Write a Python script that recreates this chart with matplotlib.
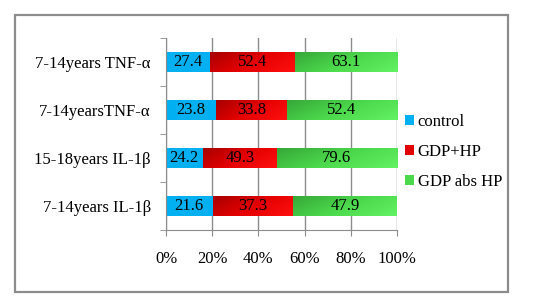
import numpy as np
import matplotlib.pyplot as plt
from matplotlib.colors import LinearSegmentedColormap
from matplotlib.patches import Patch, Rectangle

plt.rcParams['font.family'] = ['Liberation Serif', 'DejaVu Serif']

categories = ['7-14years IL-1β', '15-18years IL-1β', '7-14yearsTNF-α', '7-14years TNF-α']
control = [21.6, 24.2, 23.8, 27.4]
gdp_hp = [37.3, 49.3, 33.8, 52.4]
gdp_abs_hp = [47.9, 79.6, 52.4, 63.1]
series_names = ['control', 'GDP+HP', 'GDP abs HP']

fig = plt.figure(figsize=(5.49, 3.03), dpi=100)
fig.patches.append(Rectangle((15/549, 11/303), 493/549, 277/303, transform=fig.transFigure,
                             fill=False, edgecolor='#8c8c8c', linewidth=1.6))
ax = fig.add_axes([166/549, 73/303, 231/549, 192/303])

data = np.array([control, gdp_hp, gdp_abs_hp])
pct = data / data.sum(axis=0) * 100
y = np.arange(len(categories))
h = 0.4
fs = 12

red_cmap = LinearSegmentedColormap.from_list('r', ['#a80000', '#e40000', '#ff1010'])
green_cmap = LinearSegmentedColormap.from_list('g', ['#36a838', '#4cd84c', '#62f262'])
cmaps = [None, red_cmap, green_cmap]

nr, nc = 20, 100
grad = np.add.outer(np.linspace(0, 0.3, nr), np.linspace(0, 0.7, nc))

left = np.zeros(len(categories))
for k in range(3):
    if k == 0:
        bars = ax.barh(y, pct[k], height=h, left=left, color='#00b0f0', zorder=2)
    else:
        bars = ax.barh(y, pct[k], height=h, left=left, color='none', zorder=2)
        for b in bars:
            x0, y0 = b.get_x(), b.get_y()
            im = ax.imshow(grad, extent=[x0, x0 + b.get_width(), y0, y0 + b.get_height()],
                           cmap=cmaps[k], aspect='auto', zorder=2, origin='upper')
            im.set_clip_path(b)
    for i, b in enumerate(bars):
        ax.text(left[i] + pct[k][i] / 2, y[i], f'{data[k][i]:.1f}', ha='center', va='center',
                fontsize=fs, color='black', zorder=3)
    left = left + pct[k]

ax.set_xlim(0, 100)
ax.set_ylim(-0.5, 3.5)
ax.set_xticks([0, 20, 40, 60, 80, 100])
ax.set_xticklabels(['0%', '20%', '40%', '60%', '80%', '100%'])
ax.set_yticks(y)
ax.set_yticklabels(categories)
ax.set_yticks(np.arange(-0.5, 4, 1), minor=True)
ax.tick_params(axis='y', which='major', length=0, pad=11, labelsize=fs)
ax.tick_params(axis='y', which='minor', length=4, color='#8c8c8c')
ax.tick_params(axis='x', length=4, color='#8c8c8c', pad=11, labelsize=fs)
ax.grid(axis='x', color='#8c8c8c', linewidth=1, zorder=0)
ax.set_axisbelow(True)
for s in ['top', 'right']:
    ax.spines[s].set_visible(False)
for s in ['left', 'bottom']:
    ax.spines[s].set_color('#8c8c8c')

handles = [Patch(facecolor='#00b0f0'), Patch(facecolor='#e00000'), Patch(facecolor='#4cd84c')]
fig.legend(handles, series_names, loc='center left', bbox_to_anchor=(390/549, 151/303),
           frameon=False, fontsize=fs, handlelength=0.55, handleheight=0.55,
           handletextpad=0.2, labelspacing=0.85)

fig.savefig('out.png', dpi=100)
